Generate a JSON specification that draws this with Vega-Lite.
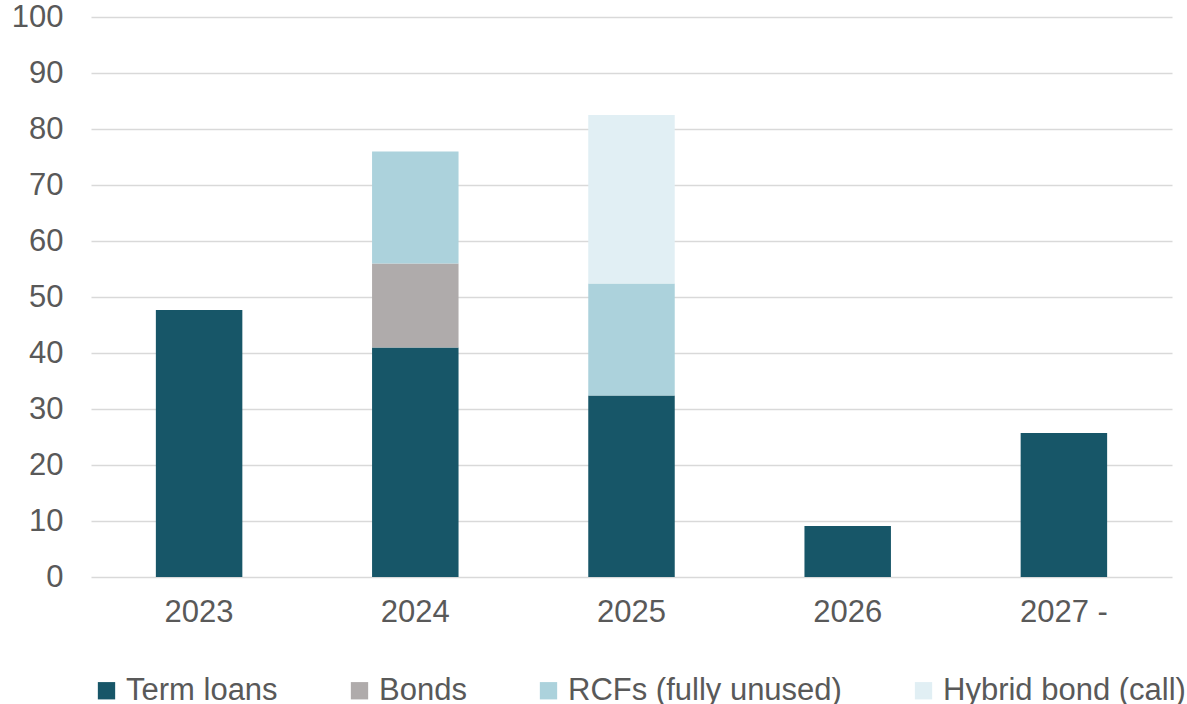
{
  "$schema": "https://vega.github.io/schema/vega-lite/v6.json",
  "width": 1081,
  "height": 560,
  "autosize": {"type": "none"},
  "padding": {"left": 91, "top": 17, "right": 15, "bottom": 127},
  "background": "white",
  "data": {
    "values": [
      {"year": "2023", "type": "Term loans", "k": 1, "value": 47.7},
      {"year": "2024", "type": "Term loans", "k": 1, "value": 41.0},
      {"year": "2024", "type": "Bonds", "k": 2, "value": 15.0},
      {"year": "2024", "type": "RCFs (fully unused)", "k": 3, "value": 20.0},
      {"year": "2025", "type": "Term loans", "k": 1, "value": 32.4},
      {"year": "2025", "type": "RCFs (fully unused)", "k": 3, "value": 20.0},
      {"year": "2025", "type": "Hybrid bond (call)", "k": 4, "value": 30.1},
      {"year": "2026", "type": "Term loans", "k": 1, "value": 9.1},
      {"year": "2027 -", "type": "Term loans", "k": 1, "value": 25.7}
    ]
  },
  "mark": {"type": "bar"},
  "encoding": {
    "x": {
      "field": "year", "type": "nominal", "sort": null,
      "scale": {"paddingInner": 0.6, "paddingOuter": 0.3},
      "axis": {
        "title": null, "labelAngle": 0, "ticks": false, "domain": false,
        "labelFont": "Liberation Sans", "labelFontSize": 31, "labelColor": "#595959",
        "labelPadding": 20
      }
    },
    "y": {
      "field": "value", "type": "quantitative", "stack": "zero",
      "scale": {"domain": [0, 100], "nice": false},
      "axis": {
        "title": null, "values": [0,10,20,30,40,50,60,70,80,90,100],
        "ticks": false, "domain": false,
        "grid": true, "gridColor": "#D9D9D9", "gridWidth": 1.5,
        "labelFont": "Liberation Sans", "labelFontSize": 31, "labelColor": "#595959",
        "labelPadding": 28
      }
    },
    "color": {
      "field": "type", "type": "nominal",
      "scale": {
        "domain": ["Term loans", "Bonds", "RCFs (fully unused)", "Hybrid bond (call)"],
        "range": ["#175668", "#AFABAB", "#ACD2DC", "#E1EFF4"]
      },
      "legend": {
        "title": null, "orient": "bottom", "direction": "horizontal",
        "symbolType": "square", "symbolSize": 300, "symbolStrokeWidth": 0,
        "labelFont": "Liberation Sans", "labelFontSize": 31, "labelColor": "#595959",
        "labelLimit": 400, "labelOffset": 4, "columnPadding": 66, "offset": 48, "padding": 0
      }
    },
    "order": {"field": "k", "type": "quantitative"}
  },
  "config": {"view": {"stroke": null}}
}
